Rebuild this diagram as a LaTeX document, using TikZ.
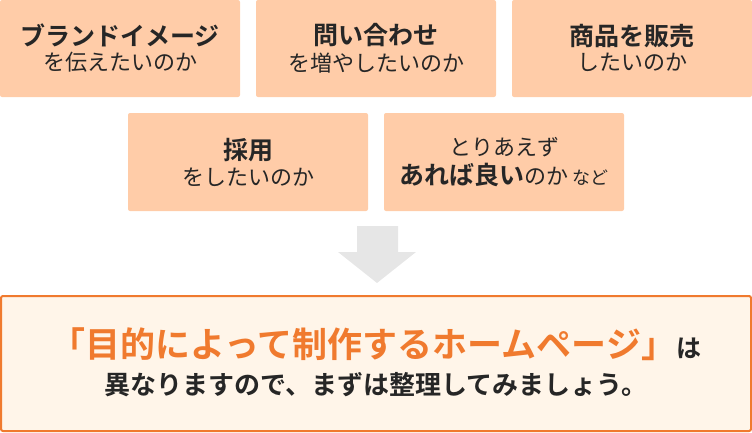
\documentclass[tikz,border=0pt]{standalone}
\usepackage{fontspec}
\newfontfamily\jp{Noto Sans CJK JP}[BoldFont={Noto Sans CJK JP Bold}]
\definecolor{boxfill}{HTML}{FFCCA8}
\definecolor{bigfill}{HTML}{FFF5E9}
\definecolor{orng}{HTML}{F07A2E}
\definecolor{arrowgray}{HTML}{E6E6E6}
\tikzset{
  card/.style={fill=boxfill, draw=none, rounded corners=2pt},
  lbl/.style={align=center, font=\jp, text=black!85, inner sep=0pt},
}
\begin{document}
\begin{tikzpicture}[x=1pt,y=-1pt]
\useasboundingbox (0,0) rectangle (752,432);
\fill[card] (0,0) rectangle (240,97);
\fill[card] (256,0) rectangle (496,97);
\fill[card] (512,0) rectangle (752,97);
\fill[card] (128,113) rectangle (368,211);
\fill[card] (384,113) rectangle (624,211);
\node[lbl] (a) at (120,48) {\fontsize{25}{30}\selectfont\bfseries ブランドイメージ\\[5pt]\fontsize{22}{30}\selectfont を伝えたいのか};
\node[lbl] (b) at (376,48) {\fontsize{25}{30}\selectfont\bfseries 問い合わせ\\[5pt]\fontsize{22}{30}\selectfont を増やしたいのか};
\node[lbl] (c) at (632,48) {\fontsize{25}{30}\selectfont\bfseries 商品を販売\\[5pt]\fontsize{22}{30}\selectfont したいのか};
\node[lbl] (d) at (248,162) {\fontsize{25}{30}\selectfont\bfseries 採用\\[5pt]\fontsize{22}{30}\selectfont をしたいのか};
\node[lbl] (e) at (504,162) {\fontsize{22}{30}\selectfont とりあえず\\[5pt]{\fontsize{25}{30}\selectfont\bfseries あれば良い}{\fontsize{22}{30}\selectfont のか }{\fontsize{18}{30}\selectfont など}};
\fill[arrowgray] (357,226) -- (398,226) -- (398,252) -- (416,252) -- (377,283) -- (338,252) -- (357,252) -- cycle;
\draw[orng, line width=2pt, fill=bigfill, rounded corners=2pt] (1,296) rectangle (751,431);
\node[lbl] (f) at (376,344) {\fontsize{35}{40}\selectfont\bfseries\textcolor{orng}{「目的によって制作するホームページ」}\fontsize{25}{40}\selectfont は};
\node[lbl] (g) at (376,385) {\fontsize{26}{30}\selectfont\bfseries 異なりますので、まずは整理してみましょう。};
\end{tikzpicture}
\end{document}
